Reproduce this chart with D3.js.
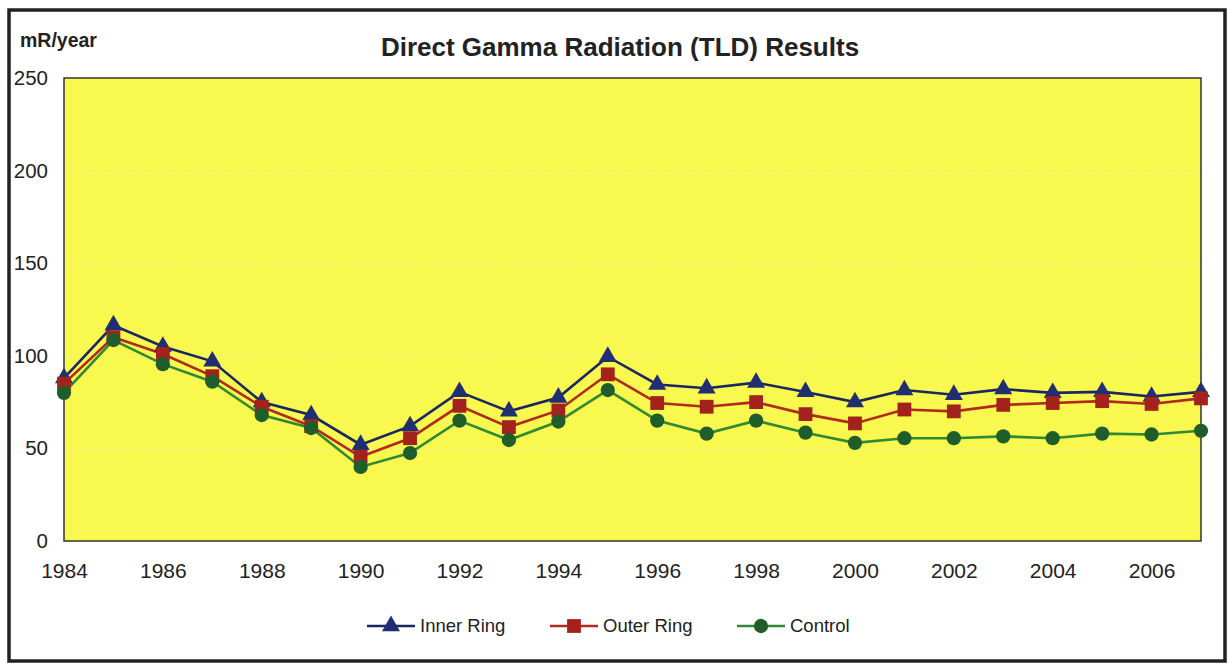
<!DOCTYPE html>
<html>
<head>
<meta charset="utf-8">
<script src="https://cdn.jsdelivr.net/npm/d3@7"></script>
<style>
  body { margin: 0; background: #fff; }
  text { font-family: "Liberation Sans", Arial, sans-serif; fill: #222; }
</style>
</head>
<body>
<script>
// data
const years = d3.range(1984, 2008);
const innerRing = [88, 116.5, 105, 97, 75, 68, 52, 62, 80.5, 70, 77.5, 99.5, 84.5, 82.5, 85.5, 80.5, 75, 81.5, 79, 82, 80, 80.5, 78, 80.5];
const outerRing = [85, 110, 101, 89, 72.5, 62, 45.5, 55.5, 73, 61.5, 70.5, 90, 74.5, 72.5, 75, 68.5, 63.5, 71, 70, 73.5, 74.5, 75.5, 74, 77];
const control   = [80, 108.5, 95.5, 86, 68, 61, 40, 47.5, 65, 54.5, 64.5, 81.5, 65, 58, 65, 58.5, 53, 55.5, 55.5, 56.5, 55.5, 58, 57.5, 59.5];
const yTicks = [0, 50, 100, 150, 200, 250];
const xTicks = d3.range(1984, 2007, 2);

const series = [
  {name: "Inner Ring", values: innerRing, line: "#1b2760", fill: "#1f2f72", shape: d3.symbolTriangle},
  {name: "Outer Ring", values: outerRing, line: "#b02a1e", fill: "#a3231c", shape: d3.symbolSquare},
  {name: "Control",    values: control,   line: "#2f8a33", fill: "#1f5e2b", shape: d3.symbolCircle}
];

const width = 1229, height = 663;
const margin = {top: 78, right: 27, bottom: 122, left: 64};

const svg = d3.select("body").append("svg")
  .attr("width", width)
  .attr("height", height);

// outer frame
svg.append("rect")
  .attr("x", 9).attr("y", 10)
  .attr("width", 1216).attr("height", 651)
  .attr("fill", "#fff")
  .attr("stroke", "#222")
  .attr("stroke-width", 3.5);

const x = d3.scaleLinear()
  .domain([1984, 2007])
  .range([margin.left, width - margin.right - 1]);

const y = d3.scaleLinear()
  .domain([0, 250])
  .range([height - margin.bottom, margin.top]);

// plot background
svg.append("rect")
  .attr("x", x(1984)).attr("y", y(250))
  .attr("width", x(2007) - x(1984)).attr("height", y(0) - y(250))
  .attr("fill", "#f9f84e");

// faint gridlines
svg.append("g")
  .selectAll("line")
  .data(yTicks.filter(d => d > 0 && d < 250))
  .join("line")
  .attr("x1", x(1984)).attr("x2", x(2007))
  .attr("y1", d => y(d)).attr("y2", d => y(d))
  .attr("stroke", "#e6e6b8")
  .attr("stroke-width", 1)
  .attr("stroke-dasharray", "2,3");

// plot border
svg.append("rect")
  .attr("x", x(1984)).attr("y", y(250))
  .attr("width", x(2007) - x(1984)).attr("height", y(0) - y(250))
  .attr("fill", "none")
  .attr("stroke", "#333")
  .attr("stroke-width", 1.5);

// y axis labels
const yAxis = d3.axisLeft(y).tickValues(yTicks).tickSize(0).tickPadding(16);
svg.append("g")
  .attr("transform", `translate(${margin.left},0)`)
  .call(yAxis)
  .call(g => g.select(".domain").remove())
  .selectAll("text")
  .attr("font-size", 20.5)
  .attr("font-family", "Liberation Sans, Arial, sans-serif")
  .attr("fill", "#222");

// x axis labels
const xAxis = d3.axisBottom(x).tickValues(xTicks).tickFormat(d3.format("d")).tickSize(0).tickPadding(22);
svg.append("g")
  .attr("transform", `translate(0,${height - margin.bottom})`)
  .call(xAxis)
  .call(g => g.select(".domain").remove())
  .selectAll("text")
  .attr("font-size", 21)
  .attr("font-family", "Liberation Sans, Arial, sans-serif")
  .attr("fill", "#222");

// lines
const line = d3.line()
  .x((d, i) => x(years[i]))
  .y(d => y(d));

series.forEach(s => {
  svg.append("path")
    .datum(s.values)
    .attr("d", line)
    .attr("fill", "none")
    .attr("stroke", s.line)
    .attr("stroke-width", 2.6);
});

const symSize = s => s.shape === d3.symbolTriangle ? 140 : s.shape === d3.symbolSquare ? 190 : 160;

series.forEach(s => {
  const sym = d3.symbol().type(s.shape).size(symSize(s));
  svg.append("g")
    .selectAll("path")
    .data(s.values)
    .join("path")
    .attr("transform", (d, i) => `translate(${x(years[i])},${y(d)})`)
    .attr("d", sym)
    .attr("fill", s.fill);
});

// title and unit label
svg.append("text")
  .attr("x", 620).attr("y", 56)
  .attr("text-anchor", "middle")
  .attr("font-size", 26)
  .attr("font-weight", "bold")
  .text("Direct Gamma Radiation (TLD) Results");

svg.append("text")
  .attr("x", 20).attr("y", 47)
  .attr("font-size", 19.5)
  .attr("font-weight", "bold")
  .text("mR/year");

// legend
const legendX = [367, 550, 737];
const legend = svg.append("g");
series.forEach((s, i) => {
  const g = legend.append("g").attr("transform", `translate(${legendX[i]},626)`);
  g.append("line")
    .attr("x1", 0).attr("x2", 48)
    .attr("stroke", s.line)
    .attr("stroke-width", 2.4);
  g.append("path")
    .attr("transform", "translate(24,0)")
    .attr("d", d3.symbol().type(s.shape).size(symSize(s)))
    .attr("fill", s.fill);
  g.append("text")
    .attr("x", 53).attr("y", 0)
    .attr("dy", "0.35em")
    .attr("font-size", 18.5)
    .text(s.name);
});
</script>
</body>
</html>
